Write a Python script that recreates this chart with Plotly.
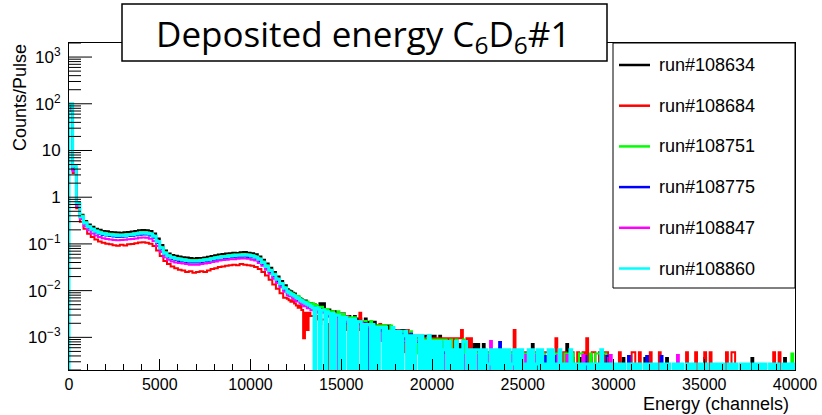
import math
import plotly.graph_objects as go

W, H = 822, 415
ML, MR, MT, MB = 69, 27, 43, 45
PW, PH = W - ML - MR, H - MT - MB

LOW_WIDTH = 200          # channels per bin, low-energy part (0 .. 11800)
TAIL_WIDTH = 100         # channels per bin, tail (12000 .. 39900)
FLOOR = 1e-7             # empty bins drawn below the axis (log scale)
Y_RANGE = [math.log10(2e-4), math.log10(2000)]

runs = ["run#108634", "run#108684", "run#108751", "run#108775", "run#108847", "run#108860"]
colors = ["#000000", "#ff0000", "#00ff00", "#0000ff", "#ff00ff", "#00ffff"]
line_widths = [2, 2, 2, 2, 2, 3]

# Counts/Pulse per 200-channel bin, channels 0 .. 11800
black_low = [90, 4.2, 0.76, 0.42, 0.31, 0.262, 0.232, 0.212, 0.2, 0.19,
             0.186, 0.181, 0.177, 0.176, 0.174, 0.178, 0.181, 0.184, 0.19, 0.195,
             0.199, 0.197, 0.189, 0.168, 0.13, 0.095, 0.072, 0.062, 0.058, 0.056,
             0.054, 0.052, 0.051, 0.05, 0.049, 0.05, 0.05, 0.051, 0.053, 0.055,
             0.057, 0.059, 0.061, 0.062, 0.063, 0.065, 0.064, 0.066, 0.067, 0.065,
             0.063, 0.06, 0.054, 0.046, 0.038, 0.031, 0.025, 0.02, 0.016, 0.013]
red_low = [70, 3.3, 0.58, 0.3, 0.21, 0.165, 0.14, 0.124, 0.113, 0.106,
           0.101, 0.098, 0.094, 0.091, 0.096, 0.093, 0.098, 0.1, 0.103, 0.107,
           0.109, 0.106, 0.101, 0.09, 0.072, 0.055, 0.043, 0.037, 0.033, 0.03,
           0.028, 0.027, 0.025, 0.026, 0.024, 0.025, 0.026, 0.025, 0.027, 0.029,
           0.03, 0.032, 0.033, 0.034, 0.035, 0.036, 0.035, 0.037, 0.036, 0.035,
           0.034, 0.032, 0.029, 0.025, 0.021, 0.017, 0.0135, 0.011, 0.0088, 0.007]
green_low = [85, 4.0, 0.74, 0.4, 0.29, 0.24, 0.212, 0.194, 0.182, 0.174,
             0.168, 0.165, 0.16, 0.157, 0.158, 0.16, 0.163, 0.166, 0.17, 0.175,
             0.178, 0.176, 0.168, 0.15, 0.115, 0.085, 0.066, 0.057, 0.053, 0.05,
             0.049, 0.047, 0.046, 0.045, 0.045, 0.045, 0.046, 0.047, 0.048, 0.05,
             0.052, 0.054, 0.055, 0.056, 0.058, 0.059, 0.059, 0.06, 0.06, 0.059,
             0.057, 0.054, 0.049, 0.042, 0.035, 0.028, 0.023, 0.018, 0.0145, 0.0118]
blue_low = [80, 3.8, 0.7, 0.37, 0.27, 0.222, 0.195, 0.176, 0.165, 0.156,
            0.151, 0.148, 0.144, 0.141, 0.142, 0.144, 0.147, 0.15, 0.154, 0.158,
            0.16, 0.159, 0.152, 0.136, 0.104, 0.076, 0.059, 0.051, 0.047, 0.045,
            0.043, 0.042, 0.041, 0.04, 0.04, 0.04, 0.041, 0.042, 0.043, 0.045,
            0.046, 0.048, 0.049, 0.05, 0.051, 0.052, 0.053, 0.053, 0.054, 0.052,
            0.051, 0.048, 0.043, 0.037, 0.031, 0.025, 0.02, 0.016, 0.0128, 0.0105]
magenta_low = [75, 3.6, 0.65, 0.34, 0.24, 0.195, 0.168, 0.151, 0.141, 0.133,
               0.128, 0.125, 0.122, 0.12, 0.121, 0.123, 0.126, 0.128, 0.131, 0.135,
               0.137, 0.135, 0.129, 0.116, 0.09, 0.067, 0.052, 0.046, 0.042, 0.04,
               0.039, 0.038, 0.037, 0.036, 0.036, 0.036, 0.037, 0.038, 0.039, 0.041,
               0.042, 0.044, 0.045, 0.046, 0.047, 0.047, 0.048, 0.049, 0.049, 0.048,
               0.046, 0.044, 0.039, 0.034, 0.028, 0.023, 0.018, 0.0145, 0.0118, 0.0095]
cyan_low = [100, 4.6, 0.72, 0.38, 0.28, 0.232, 0.205, 0.186, 0.174, 0.166,
            0.16, 0.158, 0.154, 0.15, 0.153, 0.152, 0.158, 0.16, 0.163, 0.17,
            0.172, 0.17, 0.163, 0.146, 0.112, 0.082, 0.063, 0.055, 0.051, 0.048,
            0.047, 0.045, 0.044, 0.043, 0.043, 0.043, 0.044, 0.045, 0.046, 0.048,
            0.05, 0.051, 0.053, 0.054, 0.055, 0.056, 0.057, 0.057, 0.058, 0.057,
            0.055, 0.052, 0.047, 0.04, 0.033, 0.027, 0.022, 0.0175, 0.014, 0.0112]

# Raw counts per 100-channel bin, channels 12000 .. 39900 (one row = 2000 channels)
black_tail = [
    30, 28, 27, 25, 24, 21, 20, 19, 18, 16, 17, 15, 14, 15, 13, 14, 12, 13, 15, 12,
    15, 11, 10, 11, 10, 9, 10, 9, 8, 9, 8, 9, 7, 8, 8, 7, 7, 8, 7, 6,
    7, 6, 6, 7, 5, 6, 6, 5, 6, 5, 5, 5, 4, 5, 5, 4, 5, 4, 4, 4,
    4, 4, 3, 4, 4, 3, 4, 3, 3, 3, 3, 3, 2, 3, 3, 2, 3, 3, 2, 3,
    2, 3, 2, 2, 3, 2, 2, 1, 2, 2, 2, 2, 1, 2, 2, 1, 2, 2, 1, 2,
    1, 2, 1, 2, 0, 2, 1, 1, 2, 0, 1, 1, 0, 1, 1, 0, 1, 0, 1, 1,
    1, 0, 1, 0, 0, 1, 0, 1, 0, 0, 1, 0, 0, 1, 0, 2, 0, 0, 1, 0,
    0, 1, 0, 0, 1, 0, 0, 0, 1, 0, 0, 0, 0, 0, 2, 0, 0, 1, 0, 0,
    0, 0, 1, 0, 0, 0, 0, 1, 0, 0, 0, 0, 0, 1, 0, 0, 0, 0, 0, 0,
    0, 0, 0, 0, 0, 1, 0, 0, 0, 0, 0, 0, 0, 0, 0, 0, 0, 1, 0, 0,
    0, 0, 0, 0, 0, 0, 0, 0, 0, 1, 0, 0, 0, 0, 0, 0, 0, 0, 0, 0,
    0, 0, 0, 0, 0, 0, 0, 0, 0, 0, 1, 0, 0, 0, 0, 0, 0, 0, 0, 0,
    0, 0, 0, 0, 0, 0, 0, 0, 0, 0, 0, 0, 0, 0, 0, 0, 1, 0, 0, 0,
    0, 0, 0, 0, 0, 0, 0, 0, 0, 0, 0, 0, 0, 0, 1, 0, 0, 0, 0, 0]
red_tail = [
    14, 13, 12, 13, 11, 10, 9, 10, 8, 2, 7, 3, 7, 6, 6, 2, 5, 6, 4, 5,
    5, 4, 0, 4, 5, 0, 7, 4, 3, 5, 0, 4, 3, 6, 2, 4, 3, 0, 4, 3,
    7, 3, 2, 0, 3, 4, 2, 3, 0, 3, 2, 4, 2, 0, 3, 2, 2, 3, 0, 2,
    2, 3, 0, 2, 2, 1, 3, 0, 2, 2, 0, 2, 1, 2, 0, 2, 2, 2, 0, 2,
    2, 0, 2, 1, 2, 2, 0, 2, 2, 0, 2, 1, 2, 0, 2, 2, 3, 0, 1, 2,
    1, 2, 0, 1, 0, 1, 0, 0, 1, 0, 1, 0, 1, 1, 0, 0, 1, 0, 0, 1,
    1, 0, 0, 1, 0, 3, 0, 1, 0, 1, 1, 0, 1, 0, 0, 1, 0, 1, 1, 0,
    1, 0, 1, 1, 0, 1, 0, 1, 2, 0, 1, 1, 0, 1, 0, 0, 1, 1, 0, 0,
    1, 0, 0, 1, 0, 2, 0, 0, 1, 1, 0, 0, 1, 0, 0, 1, 1, 0, 0, 0,
    0, 0, 0, 1, 0, 0, 0, 0, 0, 0, 1, 1, 0, 0, 1, 0, 0, 0, 0, 0,
    1, 0, 0, 0, 0, 1, 0, 0, 0, 0, 0, 0, 0, 0, 0, 0, 0, 0, 0, 0,
    1, 0, 0, 0, 0, 1, 0, 0, 0, 0, 1, 0, 0, 1, 0, 0, 0, 0, 0, 0,
    0, 0, 1, 0, 0, 1, 1, 0, 0, 0, 0, 0, 0, 0, 0, 0, 0, 0, 0, 0,
    0, 0, 0, 0, 0, 0, 0, 0, 1, 0, 0, 1, 0, 0, 0, 0, 0, 0, 0, 0]
green_tail = [
    22, 21, 20, 19, 18, 16, 17, 15, 14, 13, 12, 13, 12, 11, 12, 10, 11, 10, 9, 10,
    9, 8, 9, 8, 7, 8, 7, 6, 8, 7, 6, 7, 6, 5, 6, 6, 5, 6, 5, 5,
    5, 4, 5, 5, 4, 4, 5, 4, 3, 4, 4, 3, 4, 3, 4, 3, 3, 4, 3, 3,
    3, 3, 2, 3, 2, 3, 2, 2, 3, 2, 2, 2, 1, 2, 2, 2, 1, 2, 2, 2,
    2, 1, 2, 2, 1, 2, 1, 2, 1, 1, 2, 1, 1, 2, 0, 1, 1, 2, 1, 1,
    1, 1, 0, 1, 1, 1, 0, 1, 1, 0, 1, 1, 0, 1, 0, 1, 1, 0, 1, 0,
    1, 1, 1, 1, 1, 1, 0, 1, 0, 1, 0, 1, 0, 0, 1, 0, 1, 0, 0, 1,
    0, 1, 0, 0, 1, 0, 1, 0, 1, 1, 0, 0, 0, 1, 0, 1, 1, 1, 0, 0,
    0, 1, 1, 0, 0, 0, 0, 1, 0, 0, 1, 1, 1, 0, 1, 1, 0, 0, 0, 0,
    0, 0, 0, 0, 0, 0, 0, 0, 0, 0, 0, 0, 0, 0, 0, 0, 0, 0, 0, 0,
    0, 0, 0, 0, 0, 0, 0, 0, 0, 0, 0, 0, 0, 0, 0, 0, 0, 0, 0, 0,
    0, 0, 0, 0, 0, 0, 0, 0, 0, 0, 0, 0, 0, 0, 0, 0, 0, 0, 0, 0,
    0, 0, 0, 0, 0, 0, 0, 0, 0, 0, 0, 0, 0, 0, 0, 0, 0, 0, 0, 0,
    0, 0, 0, 0, 0, 0, 0, 0, 0, 0, 0, 0, 0, 0, 0, 0, 0, 0, 1, 0]
blue_tail = [
    22, 21, 20, 18, 18, 16, 15, 15, 13, 13, 12, 12, 11, 11, 10, 11, 10, 9, 10, 9,
    9, 8, 8, 7, 8, 7, 7, 6, 7, 6, 6, 6, 5, 6, 5, 0, 5, 5, 4, 5,
    5, 4, 4, 5, 0, 4, 4, 3, 4, 4, 3, 3, 4, 3, 3, 3, 2, 3, 3, 3,
    3, 2, 3, 2, 3, 2, 2, 2, 3, 1, 2, 2, 2, 1, 2, 2, 0, 2, 1, 2,
    2, 1, 1, 2, 1, 1, 0, 2, 1, 1, 1, 1, 0, 1, 1, 1, 0, 1, 1, 0,
    1, 0, 1, 1, 0, 1, 0, 1, 0, 1, 0, 0, 1, 0, 1, 0, 0, 2, 0, 0,
    1, 0, 0, 1, 0, 0, 0, 1, 0, 0, 0, 1, 0, 0, 0, 0, 1, 0, 0, 0,
    0, 0, 1, 0, 0, 0, 0, 0, 1, 0, 0, 0, 0, 0, 0, 1, 0, 0, 0, 0,
    0, 0, 0, 0, 1, 0, 0, 0, 0, 0, 0, 0, 0, 0, 0, 0, 1, 1, 0, 0,
    0, 0, 0, 0, 0, 0, 0, 0, 1, 0, 0, 0, 0, 0, 0, 0, 0, 0, 1, 0,
    0, 0, 0, 0, 0, 0, 1, 0, 0, 0, 0, 0, 0, 0, 0, 0, 0, 0, 0, 0,
    0, 0, 0, 0, 0, 0, 0, 0, 0, 0, 0, 0, 0, 0, 0, 0, 0, 0, 0, 0,
    0, 0, 0, 0, 0, 0, 0, 0, 0, 0, 0, 0, 0, 0, 0, 0, 0, 0, 0, 0,
    0, 0, 0, 0, 0, 0, 0, 0, 0, 0, 0, 0, 0, 0, 0, 0, 0, 0, 0, 0]
magenta_tail = [
    19, 18, 18, 16, 15, 14, 14, 13, 12, 11, 12, 10, 10, 9, 10, 9, 8, 9, 8, 8,
    8, 7, 7, 7, 0, 6, 7, 0, 6, 5, 6, 5, 5, 6, 4, 5, 5, 4, 5, 4,
    4, 5, 4, 3, 4, 4, 3, 0, 4, 3, 3, 3, 2, 3, 3, 2, 3, 3, 2, 3,
    2, 3, 2, 2, 2, 2, 1, 2, 2, 2, 1, 2, 2, 1, 2, 1, 2, 1, 2, 1,
    2, 1, 1, 1, 2, 1, 0, 1, 1, 1, 1, 0, 1, 1, 1, 0, 1, 1, 0, 1,
    1, 0, 1, 1, 0, 1, 0, 1, 0, 0, 1, 0, 2, 0, 1, 0, 0, 1, 0, 0,
    0, 1, 0, 0, 1, 0, 0, 1, 0, 0, 0, 1, 0, 0, 0, 0, 1, 0, 0, 0,
    1, 0, 0, 0, 0, 1, 0, 0, 0, 1, 0, 0, 0, 0, 1, 0, 0, 0, 0, 0,
    0, 0, 0, 1, 0, 0, 0, 0, 0, 0, 0, 0, 0, 0, 0, 0, 0, 0, 1, 0,
    0, 0, 0, 0, 0, 0, 0, 0, 0, 0, 0, 0, 0, 0, 0, 0, 0, 0, 0, 0,
    0, 0, 0, 0, 0, 0, 0, 0, 0, 0, 0, 0, 0, 0, 0, 1, 0, 0, 0, 0,
    0, 0, 0, 0, 0, 0, 0, 0, 0, 0, 0, 0, 0, 0, 0, 0, 0, 0, 0, 0,
    0, 0, 0, 0, 0, 0, 0, 0, 0, 0, 0, 0, 0, 0, 0, 0, 0, 0, 0, 0,
    0, 0, 0, 0, 0, 0, 0, 0, 0, 0, 0, 0, 0, 0, 0, 0, 0, 0, 0, 0]
cyan_tail = [
    35, 33, 31, 30, 28, 26, 25, 23, 22, 21, 20, 19, 18, 17, 16, 0, 16, 15, 0, 14,
    14, 0, 13, 12, 0, 12, 0, 11, 11, 0, 10, 0, 10, 9, 0, 9, 0, 9, 0, 8,
    8, 0, 7, 0, 7, 7, 0, 7, 0, 6, 0, 6, 6, 0, 6, 0, 5, 0, 6, 0,
    5, 0, 5, 0, 4, 5, 0, 4, 0, 4, 0, 4, 4, 0, 4, 0, 3, 0, 4, 0,
    3, 0, 3, 0, 3, 0, 2, 3, 0, 3, 0, 2, 0, 3, 0, 2, 0, 3, 3, 0,
    2, 0, 2, 0, 2, 2, 0, 2, 0, 2, 0, 1, 2, 0, 2, 0, 2, 0, 2, 0,
    2, 0, 2, 0, 1, 2, 0, 2, 0, 2, 0, 1, 0, 2, 0, 2, 0, 1, 2, 0,
    2, 0, 1, 0, 2, 0, 2, 0, 1, 0, 2, 0, 1, 0, 1, 0, 2, 0, 1, 0,
    1, 0, 1, 0, 1, 1, 0, 1, 0, 1, 0, 1, 0, 2, 0, 1, 0, 1, 0, 1,
    0, 1, 0, 1, 0, 1, 0, 0, 1, 0, 1, 0, 1, 0, 1, 0, 0, 1, 0, 1,
    0, 1, 0, 1, 0, 0, 1, 0, 1, 0, 1, 0, 0, 1, 0, 1, 0, 1, 0, 0,
    1, 0, 1, 0, 1, 0, 0, 1, 0, 1, 0, 1, 0, 0, 1, 0, 1, 0, 1, 0,
    1, 0, 0, 1, 0, 1, 0, 1, 0, 0, 1, 0, 1, 0, 1, 0, 0, 1, 0, 1,
    0, 1, 0, 1, 0, 0, 1, 0, 1, 0, 1, 0, 0, 1, 0, 1, 0, 1, 0, 1]

# Counts/Pulse corresponding to a single count (1 / number of pulses)
per_count = [0.00036, 0.00048, 0.00045, 0.00040, 0.00042, 0.00027]

lows = [black_low, red_low, green_low, blue_low, magenta_low, cyan_low]
tails = [black_tail, red_tail, green_tail, blue_tail, magenta_tail, cyan_tail]

x_tickvals = [0, 5000, 10000, 15000, 20000, 25000, 30000, 35000, 40000]
x_ticktext = ["0", "5000", "10000", "15000", "20000", "25000", "30000", "35000", "40000"]
y_tickvals = [1000, 100, 10, 1, 0.1, 0.01, 0.001]
y_ticktext = ["10<sup>3</sup>", "10<sup>2</sup>", "10", "1",
              "10<sup>\u22121</sup>", "10<sup>\u22122</sup>", "10<sup>\u22123</sup>"]
y_minor = [k * 10.0 ** d for d in range(-4, 4) for k in range(2, 10)]

title_text = "Deposited energy C<sub>6</sub>D<sub>6</sub>#1"
x_title = "Energy (channels)"
y_title = "Counts/Pulse"


def px_x(p):
    return (p - ML) / PW


def px_y(p):
    return (H - MB - p) / PH


def yval_paper(v):
    return (math.log10(v) - Y_RANGE[0]) / (Y_RANGE[1] - Y_RANGE[0])


fig = go.Figure()
for name, col, lw, low, tail, q in zip(runs, colors, line_widths, lows, tails, per_count):
    edges = [LOW_WIDTH * i for i in range(len(low))]
    tail_start = LOW_WIDTH * len(low)
    edges += [tail_start + TAIL_WIDTH * j for j in range(len(tail))]
    end = tail_start + TAIL_WIDTH * len(tail)
    vals = list(low) + [c * q for c in tail]
    vals = [v if v > 0 else FLOOR for v in vals]
    xs = [0] + edges + [end]
    ys = [FLOOR] + vals + [FLOOR]
    fig.add_trace(go.Scatter(x=xs, y=ys, mode="lines", name=name,
                             line=dict(color=col, width=lw, shape="hv"),
                             showlegend=False, hoverinfo="skip"))

x_tick_font = dict(family="Liberation Sans, Arial, sans-serif", size=16, color="black")
y_tick_font = dict(family="Liberation Sans, Arial, sans-serif", size=17, color="black")

fig.update_xaxes(range=[0, 40000], showline=True, linecolor="black", linewidth=1,
                 mirror=True, ticks="inside", ticklen=11, tickwidth=1, tickcolor="black",
                 tickmode="array", tickvals=x_tickvals, ticktext=x_ticktext,
                 tickfont=x_tick_font, showgrid=False, zeroline=False,
                 minor=dict(ticks="inside", ticklen=6, dtick=1000, tick0=0,
                            tickcolor="black", tickwidth=1, showgrid=False))
fig.update_yaxes(type="log", range=Y_RANGE, showline=True, linecolor="black",
                 linewidth=1, mirror=True, ticks="", tickmode="array",
                 tickvals=y_tickvals, ticktext=y_ticktext, tickfont=y_tick_font,
                 ticklabelstandoff=4, showgrid=False, zeroline=False)

shapes = []
annotations = []

# ROOT-style y ticks drawn inside the frame
for v in y_tickvals:
    shapes.append(dict(type="line", xref="paper", yref="paper",
                       x0=0, x1=23 / PW, y0=yval_paper(v), y1=yval_paper(v),
                       line=dict(color="black", width=1)))
for v in y_minor:
    yp = yval_paper(v)
    if 0 <= yp <= 1:
        shapes.append(dict(type="line", xref="paper", yref="paper",
                           x0=0, x1=12 / PW, y0=yp, y1=yp,
                           line=dict(color="black", width=1)))

# title box
shapes.append(dict(type="rect", xref="paper", yref="paper",
                   x0=px_x(122), x1=px_x(607), y0=px_y(61), y1=px_y(4),
                   fillcolor="white", line=dict(color="black", width=1.5), layer="above"))
annotations.append(dict(text=title_text, xref="paper", yref="paper",
                        x=px_x(363), y=px_y(35), xanchor="center", yanchor="middle",
                        showarrow=False,
                        font=dict(family="Open Sans, Noto Sans, sans-serif", size=35,
                                  color="black")))

# legend box
shapes.append(dict(type="rect", xref="paper", yref="paper",
                   x0=px_x(613), x1=px_x(795), y0=px_y(288), y1=px_y(43),
                   fillcolor="white", line=dict(color="black", width=1), layer="above"))
legend_y0, legend_dy = 65, 40.7
for k, (name, col) in enumerate(zip(runs, colors)):
    yy = legend_y0 + k * legend_dy
    shapes.append(dict(type="line", xref="paper", yref="paper",
                       x0=px_x(619), x1=px_x(650), y0=px_y(yy), y1=px_y(yy),
                       line=dict(color=col, width=2.5), layer="above"))
    annotations.append(dict(text=name, xref="paper", yref="paper",
                            x=px_x(657), y=px_y(yy), xanchor="left", yanchor="middle",
                            showarrow=False,
                            font=dict(family="Liberation Sans, Arial, sans-serif", size=18,
                                      color="black")))

# axis titles (ROOT style: aligned to axis ends)
annotations.append(dict(text=y_title, xref="paper", yref="paper",
                        x=px_x(20), y=px_y(98), xanchor="center", yanchor="middle",
                        textangle=-90, showarrow=False,
                        font=dict(family="Liberation Sans, Arial, sans-serif", size=18,
                                  color="black")))
annotations.append(dict(text=x_title, xref="paper", yref="paper",
                        x=px_x(790), y=px_y(415), xanchor="right", yanchor="bottom",
                        showarrow=False, borderpad=0,
                        font=dict(family="Liberation Sans, Arial, sans-serif", size=18,
                                  color="black")))

fig.update_layout(width=W, height=H, margin=dict(l=ML, r=MR, t=MT, b=MB, autoexpand=False),
                  paper_bgcolor="white", plot_bgcolor="white", showlegend=False,
                  shapes=shapes, annotations=annotations)

fig.write_html("out.html")
